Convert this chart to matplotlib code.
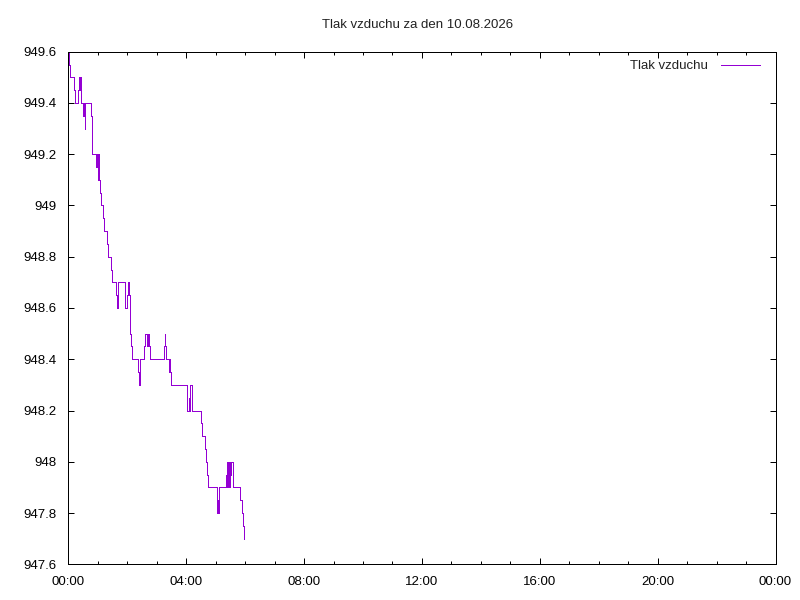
import matplotlib
matplotlib.use("Agg")
import matplotlib.pyplot as plt
from matplotlib.ticker import FuncFormatter, MultipleLocator

plt.rcParams['font.family'] = ['Liberation Sans', 'DejaVu Sans']

title = "Tlak vzduchu za den 10.08.2026"
series_name = "Tlak vzduchu"

# time in minutes after midnight, pressure in hPa (step data)
minutes = [1, 1.5, 3.5, 12, 14, 20, 22, 23, 24, 25, 26.5, 30.5, 31.5, 33, 34,
           45.6, 47.6, 49, 56.4, 59, 60, 61, 62, 65, 67.2, 71.3, 73.3, 79.4,
           81.5, 87.6, 89.6, 97.8, 99.8, 101.8, 114.9, 115.5, 118.9, 122.2,
           123.6, 125, 126.3, 128.3, 130.3, 141.3, 143.4, 144, 144.6, 145.4,
           154.8, 156.8, 160.9, 162.9, 165, 167, 194.9, 196, 197.6, 199.5,
           205.7, 206.4, 207.8, 209.8, 242.4, 245, 246, 247.5, 251.3, 269.7,
           271.7, 279, 281, 283, 285.1, 302.2, 303.5, 304.9, 306.3, 307.5,
           321.2, 322.5, 324, 325, 327.5, 328.5, 330.5, 331.5, 334.5, 335.5,
           350.3, 353.1, 355.2, 357.8]
pressure = [949.60, 949.55, 949.50, 949.45, 949.40, 949.45, 949.50, 949.45,
            949.50, 949.45, 949.40, 949.35, 949.40, 949.30, 949.40, 949.35,
            949.25, 949.20, 949.15, 949.20, 949.10, 949.20, 949.10, 949.05,
            949.00, 948.95, 948.90, 948.85, 948.80, 948.75, 948.70, 948.65,
            948.60, 948.70, 948.65, 948.60, 948.65, 948.70, 948.65, 948.55,
            948.50, 948.45, 948.40, 948.35, 948.30, 948.35, 948.30, 948.40,
            948.45, 948.50, 948.45, 948.50, 948.45, 948.40, 948.45, 948.50,
            948.45, 948.40, 948.35, 948.40, 948.35, 948.30, 948.20, 948.25,
            948.20, 948.30, 948.20, 948.15, 948.10, 948.05, 948.00, 947.95,
            947.90, 947.85, 947.80, 947.85, 947.80, 947.90, 947.95, 948.00,
            947.90, 948.00, 947.90, 948.00, 947.95, 948.00, 947.95, 947.90,
            947.85, 947.80, 947.75, 947.70]

xtick_hours = [0, 4, 8, 12, 16, 20, 24]
xtick_labels = ["00:00", "04:00", "08:00", "12:00", "16:00", "20:00", "00:00"]

hours = [m / 60.0 for m in minutes]

fig = plt.figure(figsize=(8, 6), dpi=100)
ax = fig.add_axes([68.3 / 800, 1 - 564.3 / 600, (775.5 - 68.3) / 800, (564.3 - 51.7) / 600])

line_color = "#9400D3"
px = 0.72  # one pixel in points at 100 dpi
ax.step(hours, pressure, where="post", color=line_color, lw=px, label=series_name,
        antialiased=False)

ax.set_xlim(0, 24)
ax.set_ylim(947.6, 949.6)
ax.set_xticks(xtick_hours)
ax.set_xticklabels(xtick_labels)
ax.xaxis.set_minor_locator(MultipleLocator(1))
ax.yaxis.set_major_locator(MultipleLocator(0.2))
ax.yaxis.set_major_formatter(FuncFormatter(lambda v, p: "%g" % round(v, 1)))

for s in ax.spines.values():
    s.set_linewidth(px)
    s.set_color("black")
    s.set_antialiased(False)

ax.tick_params(which="major", direction="in", length=4.5, width=px, top=True, right=True,
               labelsize=9.5, colors="black")
ax.tick_params(axis="y", which="major", pad=8.8)
ax.tick_params(axis="x", which="major", pad=8.3)
ax.tick_params(which="minor", direction="in", length=2.2, width=px, top=True, right=True)

fig.text(418 / 800, 1 - 25 / 600, title, ha="center", va="center", fontsize=9.5, color="#222222")

# legend drawn manually in gnuplot style
fig.text(708 / 800, 1 - 66 / 600, series_name, ha="right", va="center", fontsize=9.5, color="#222222")
fig.add_artist(plt.Line2D([720.7 / 800, 760 / 800], [1 - 65 / 600, 1 - 65 / 600],
                          color=line_color, lw=px, antialiased=False,
                          transform=fig.transFigure))

fig.savefig("out.png", dpi=100, facecolor="white")
